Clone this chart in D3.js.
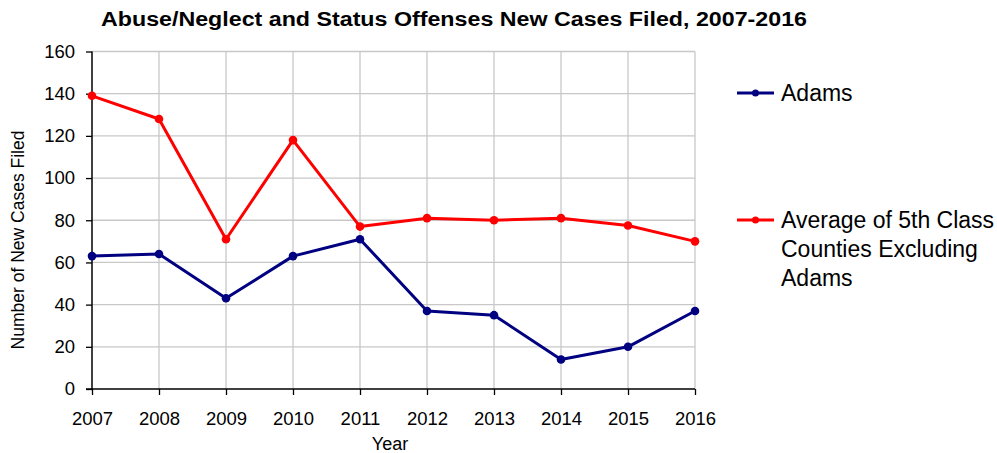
<!DOCTYPE html>
<html>
<head>
<meta charset="utf-8">
<script src="https://cdn.jsdelivr.net/npm/d3@7"></script>
<style>
  body { margin: 0; background: #fff; }
  text { font-family: "Liberation Sans", Arial, sans-serif; fill: #000; }
</style>
</head>
<body>
<div class="canvas"></div>
<script>
const years = [2007, 2008, 2009, 2010, 2011, 2012, 2013, 2014, 2015, 2016];
const adams = [63, 64, 43, 63, 71, 37, 35, 14, 20, 37];
const avgOthers = [139, 128, 71, 118, 77, 81, 80, 81, 77.5, 70];
const yTicks = [0, 20, 40, 60, 80, 100, 120, 140, 160];

const dims = { width: 997, height: 453 };
const plot = { left: 92, right: 695, top: 51.5, bottom: 389 };

const svg = d3.select('.canvas')
    .append('svg')
    .attr('width', dims.width)
    .attr('height', dims.height);

const x = d3.scalePoint()
    .domain(years)
    .range([plot.left, plot.right]);

const y = d3.scaleLinear()
    .domain([0, 160])
    .range([plot.bottom, plot.top]);

// grid
const grid = svg.append('g').attr('stroke', '#c8c8c8').attr('stroke-width', 1.3);
grid.selectAll('line.h')
    .data(yTicks.slice(1))
    .enter().append('line')
    .attr('x1', plot.left).attr('x2', plot.right)
    .attr('y1', d => y(d)).attr('y2', d => y(d));
grid.selectAll('line.v')
    .data(years.slice(1))
    .enter().append('line')
    .attr('x1', d => x(d)).attr('x2', d => x(d))
    .attr('y1', plot.top).attr('y2', plot.bottom);

// axes
const yAxis = d3.axisLeft(y).tickValues(yTicks).tickSize(6).tickPadding(11);
const xAxis = d3.axisBottom(x).tickSize(6).tickPadding(17).tickFormat(d3.format('d'));

const yG = svg.append('g')
    .attr('transform', `translate(${plot.left},0)`)
    .call(yAxis);
const xG = svg.append('g')
    .attr('transform', `translate(0,${plot.bottom})`)
    .call(xAxis);

[yG, xG].forEach(g => {
    g.attr('font-size', null).attr('font-family', null);
    g.select('.domain').attr('stroke', '#000').attr('stroke-width', 1.5);
    g.selectAll('.tick line').attr('stroke', '#000').attr('stroke-width', 1.3);
    g.selectAll('.tick text')
        .attr('fill', '#000')
        .style('font-size', '18.5px')
        .style('font-family', '"Liberation Sans", Arial, sans-serif');
});
yG.select('.domain').attr('d', `M0,${plot.top}V${plot.bottom}`);
xG.select('.domain').attr('d', `M${plot.left - 6},0H${plot.right}`);

// series
const series = [
    { name: 'Average of 5th Class Counties Excluding Adams', values: avgOthers, color: '#ff0000' },
    { name: 'Adams', values: adams, color: '#000080' }
];

const line = d3.line()
    .x((d, i) => x(years[i]))
    .y(d => y(d));

series.forEach(s => {
    svg.append('path')
        .datum(s.values)
        .attr('fill', 'none')
        .attr('stroke', s.color)
        .attr('stroke-width', 3)
        .attr('stroke-linejoin', 'round')
        .attr('d', line);
    svg.append('g').selectAll('circle')
        .data(s.values)
        .enter().append('circle')
        .attr('cx', (d, i) => x(years[i]))
        .attr('cy', d => y(d))
        .attr('r', 4.3)
        .attr('fill', s.color);
});

// title & axis labels
svg.append('text')
    .attr('x', 454).attr('y', 26)
    .attr('text-anchor', 'middle')
    .style('font-size', '19.5px')
    .attr('font-weight', 'bold')
    .attr('textLength', 706)
    .attr('lengthAdjust', 'spacingAndGlyphs')
    .text('Abuse/Neglect and Status Offenses New Cases Filed, 2007-2016');

svg.append('text')
    .attr('x', 390).attr('y', 450)
    .attr('text-anchor', 'middle')
    .style('font-size', '18px')
    .text('Year');

svg.append('text')
    .attr('transform', 'translate(24,240) rotate(-90)')
    .attr('text-anchor', 'middle')
    .style('font-size', '17.5px')
    .text('Number of New Cases Filed');

// legend
const legendItems = [
    { lines: ['Adams'], color: '#000080', y: 93 },
    { lines: ['Average of 5th Class', 'Counties Excluding', 'Adams'], color: '#ff0000', y: 220 }
];
const legend = svg.append('g');
legendItems.forEach(item => {
    legend.append('line')
        .attr('x1', 737).attr('x2', 774)
        .attr('y1', item.y).attr('y2', item.y)
        .attr('stroke', item.color).attr('stroke-width', 3);
    legend.append('circle')
        .attr('cx', 755.5).attr('cy', item.y).attr('r', 3.5)
        .attr('fill', item.color);
    const t = legend.append('text')
        .attr('x', 781).attr('y', item.y + 8)
        .style('font-size', '23px');
    item.lines.forEach((l, i) => {
        t.append('tspan')
            .attr('x', 781)
            .attr('dy', i === 0 ? 0 : 29)
            .text(l);
    });
});
</script>
</body>
</html>
